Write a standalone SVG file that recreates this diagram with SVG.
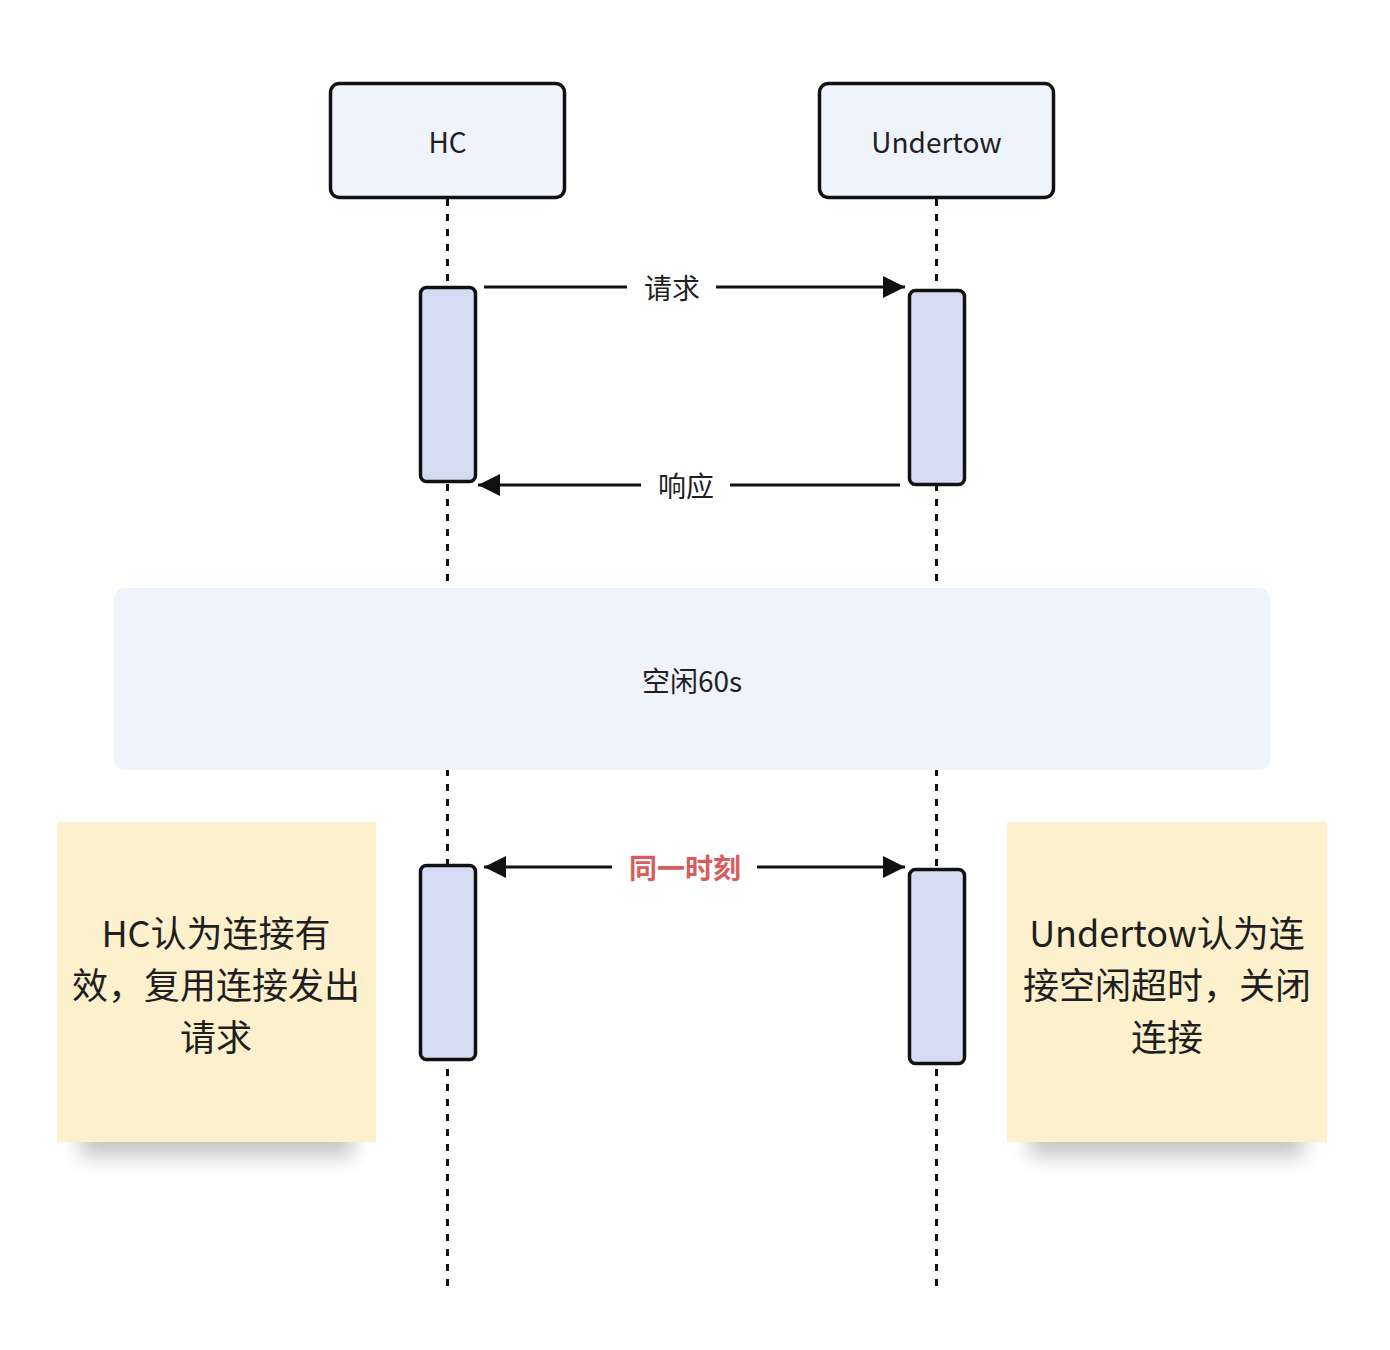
<svg xmlns="http://www.w3.org/2000/svg" width="1390" height="1350" viewBox="0 0 1390 1350">
<style>
text{font-family:"Noto Sans CJK SC","Noto Sans",sans-serif;fill:#1f1f1f;dominant-baseline:central;text-anchor:middle}
.actor{fill:#EFF3FC;stroke:#111;stroke-width:3.5}
.act{fill:#D6DBF4;stroke:#111;stroke-width:3.5}
.life{stroke:#111;stroke-width:3;stroke-dasharray:7 8;fill:none}
.msg{stroke:#111;stroke-width:3;fill:none}
.lbl{font-size:28px}
.note{fill:#FDF0CD}
.ntxt{font-size:36px}
</style>
<defs>
<marker id="ah" markerUnits="userSpaceOnUse" markerWidth="24" markerHeight="24" viewBox="0 0 22 24" refX="22" refY="12" orient="auto-start-reverse">
<path d="M0,1 L22,12 L0,23 Z" fill="#111"/>
</marker>
<filter id="blur" x="-30%" y="-100%" width="160%" height="300%"><feGaussianBlur stdDeviation="10"/></filter>
</defs>
<rect width="1390" height="1350" fill="#fff"/>
<g id="lifelines">
<line class="life" x1="447.5" y1="199" x2="447.5" y2="1290"/>
<line class="life" x1="936.5" y1="199" x2="936.5" y2="1290"/>
</g>
<g id="actor-hc">
<rect class="actor" x="330.5" y="83.5" width="234" height="114" rx="9"/>
<text class="lbl" x="447.5" y="141">HC</text>
</g>
<g id="actor-undertow">
<rect class="actor" x="819.5" y="83.5" width="234" height="114" rx="9"/>
<text class="lbl" x="936.5" y="141">Undertow</text>
</g>
<g id="idle">
<rect x="114" y="588" width="1156" height="182" rx="10" fill="#EFF3FC"/>
<text class="lbl" x="692" y="680">空闲60s</text>
</g>
<g id="act-hc-1"><rect class="act" x="420.5" y="287.5" width="55" height="194" rx="6"/></g>
<g id="act-ut-1"><rect class="act" x="909.5" y="290.5" width="55" height="194" rx="6"/></g>
<g id="act-hc-2"><rect class="act" x="420.5" y="865.5" width="55" height="194" rx="6"/></g>
<g id="act-ut-2"><rect class="act" x="909.5" y="869.5" width="55" height="194" rx="6"/></g>
<g id="connectors">
<line class="msg" x1="484" y1="287" x2="905" y2="287" marker-end="url(#ah)"/>
<rect x="627" y="270" width="89" height="36" fill="#fff"/>
<text class="lbl" x="672" y="287">请求</text>
<line class="msg" x1="900" y1="485" x2="478" y2="485" marker-end="url(#ah)"/>
<rect x="641" y="468" width="89" height="36" fill="#fff"/>
<text class="lbl" x="686" y="485">响应</text>
<line class="msg" x1="484" y1="867" x2="905" y2="867" marker-start="url(#ah)" marker-end="url(#ah)"/>
<rect x="612" y="850" width="145" height="36" fill="#fff"/>
<text class="lbl" x="685" y="867" style="fill:#D95C5C;font-weight:bold">同一时刻</text>
</g>
<g id="note-hc">
<rect x="80" y="1112" width="273" height="45" fill="#000" opacity="0.22" filter="url(#blur)"/>
<rect class="note" x="57" y="822" width="319" height="320"/>
<text class="ntxt" x="216" y="931">HC认为连接有</text>
<text class="ntxt" x="216" y="983">效，复用连接发出</text>
<text class="ntxt" x="216" y="1035">请求</text>
</g>
<g id="note-undertow">
<rect x="1030" y="1112" width="274" height="45" fill="#000" opacity="0.22" filter="url(#blur)"/>
<rect class="note" x="1007" y="822" width="320" height="320"/>
<text class="ntxt" x="1167" y="931">Undertow认为连</text>
<text class="ntxt" x="1167" y="983">接空闲超时，关闭</text>
<text class="ntxt" x="1167" y="1035">连接</text>
</g>
</svg>
